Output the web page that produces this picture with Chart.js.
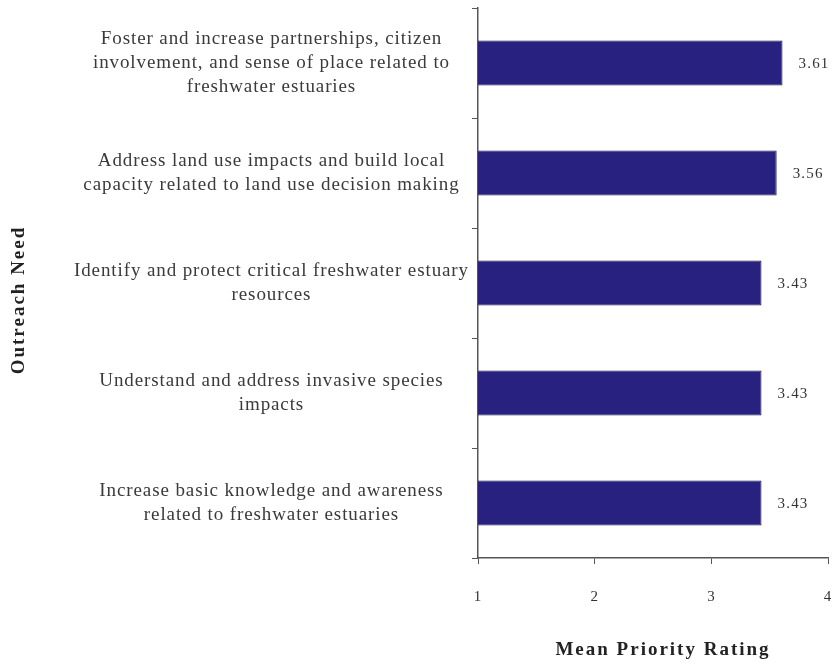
<!DOCTYPE html>
<html>
<head>
<meta charset="utf-8">
<script src="https://cdn.jsdelivr.net/npm/chart.js@4/dist/chart.umd.min.js"></script>
<style>
  html, body { margin: 0; padding: 0; background: #fff; }
  #wrap { width: 834px; height: 665px; }
</style>
</head>
<body>
<div id="wrap"><canvas id="needs"></canvas></div>
<script>
// outreach needs, top to bottom
const needLabels = [
  ["Foster and increase partnerships, citizen", "involvement, and sense of place related to", "freshwater estuaries"],
  ["Address land use impacts and build local", "capacity related to land use decision making"],
  ["Identify and protect critical freshwater estuary", "resources"],
  ["Understand and address invasive species", "impacts"],
  ["Increase basic knowledge and awareness", "related to freshwater estuaries"]
];
const meanRating = [3.61, 3.56, 3.43, 3.43, 3.43];
const ratingTicks = [1, 2, 3, 4];

const serif = "'Liberation Serif', 'DejaVu Serif', serif";
const spread = '0.9px'; // the original text is set quite wide

// widen all text a little, must be set before measuring and drawing
const wideText = {
  id: 'wideText',
  beforeUpdate(chart) { chart.ctx.letterSpacing = spread; },
  beforeDraw(chart) { chart.ctx.letterSpacing = spread; }
};

// value text right of each bar
const valueLabels = {
  id: 'valueLabels',
  afterDatasetsDraw(chart) {
    const ctx = chart.ctx;
    const meta = chart.getDatasetMeta(0);
    ctx.save();
    ctx.letterSpacing = '1.2px';
    ctx.font = "15px " + serif;
    ctx.fillStyle = '#333';
    ctx.textAlign = 'left';
    ctx.textBaseline = 'middle';
    meta.data.forEach(function (bar, i) {
      ctx.fillText(meanRating[i].toFixed(2), bar.x + 16, bar.y + 1);
    });
    ctx.restore();
  }
};

// both axis titles, placed like the original
const axisTitles = {
  id: 'axisTitles',
  afterDraw(chart) {
    const ctx = chart.ctx;
    const area = chart.chartArea;
    ctx.save();
    ctx.letterSpacing = '2px';
    ctx.fillStyle = '#222';
    ctx.textAlign = 'center';
    ctx.textBaseline = 'middle';
    ctx.font = "bold 19px " + serif;
    ctx.fillText('Mean Priority Rating', (area.left + area.right) / 2 + 10, 650);
    ctx.translate(19, 300);
    ctx.rotate(-Math.PI / 2);
    ctx.fillText('Outreach Need', 0, 0);
    ctx.restore();
  }
};

new Chart(document.getElementById('needs').getContext('2d'), {
  type: 'bar',
  data: {
    labels: needLabels,
    datasets: [{
      data: meanRating,
      backgroundColor: '#28217f',
      borderColor: '#1b1650',
      borderWidth: 1,
      categoryPercentage: 1,
      barPercentage: 0.41
    }]
  },
  options: {
    indexAxis: 'y',
    responsive: true,
    maintainAspectRatio: false,
    animation: false,
    layout: { padding: { top: 8, right: 6, bottom: 35, left: 0 } },
    plugins: {
      legend: { display: false },
      tooltip: { enabled: false }
    },
    scales: {
      x: {
        min: 1,
        max: 4,
        afterBuildTicks: function (scale) {
          scale.ticks = ratingTicks.map(v => ({ value: v }));
        },
        afterFit: function (scale) {
          scale.paddingLeft = 0;
          scale.paddingRight = 0;
        },
        grid: { drawOnChartArea: false, drawTicks: true, tickLength: 6, color: '#555', lineWidth: 1 },
        border: { color: '#555', width: 1.5 },
        ticks: { color: '#333', font: { family: serif, size: 15 }, padding: 24, maxRotation: 0 }
      },
      y: {
        afterFit: function (scale) {
          scale.width = 478;
          scale.paddingTop = 0;
          scale.paddingBottom = 0;
        },
        grid: { drawOnChartArea: false, drawTicks: true, tickLength: 6, color: '#555', lineWidth: 1, offset: true },
        border: { color: '#555', width: 1.5 },
        ticks: {
          color: '#3a3a3a',
          crossAlign: 'center',
          padding: 3,
          font: { family: serif, size: 19, lineHeight: 1.24 }
        }
      }
    }
  },
  plugins: [wideText, valueLabels, axisTitles]
});
</script>
</body>
</html>
